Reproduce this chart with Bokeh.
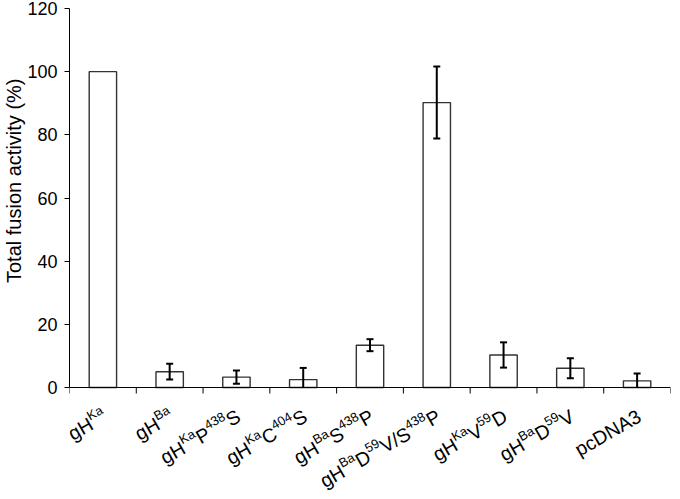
import re
import math
from bokeh.plotting import figure
from bokeh.models import (ColumnDataSource, FixedTicker, LinearAxis, Range1d,
                          Span, Title)
from bokeh.embed import file_html
from bokeh.resources import INLINE

# ---- data ----
# ^{...} marks superscript text
labels = ["gH^{Ka}", "gH^{Ba}", "gH^{Ka}P^{438}S", "gH^{Ka}C^{404}S",
          "gH^{Ba}S^{438}P", "gH^{Ba}D^{59}V/S^{438}P", "gH^{Ka}V^{59}D",
          "gH^{Ba}D^{59}V", "pcDNA3"]
values = [100, 5.0, 3.3, 2.5, 13.4, 90.2, 10.3, 6.1, 2.1]
errors = [0, 2.5, 2.1, 3.7, 1.9, 11.4, 4.0, 3.2, 2.3]
y_ticks = [0, 20, 40, 60, 80, 100, 120]
y_label = "Total fusion activity (%)"

n = len(labels)
centers = [i + 0.5 for i in range(n)]
bounds = list(range(n + 1))
Y_MAX = 120

FONT = "Liberation Sans"
BASE = 19.5      # px, category label size
SUP = 13.0       # px, superscript size
RAISE = 6.5      # px, superscript raise
ANG = math.radians(30)

# layout (px)
W_ALL, H_ALL = 672, 491
LEFT, RIGHT, TOP = 64, 2, 8
AXIS_Y = 387                     # canvas y of the value 0
PX = (AXIS_Y - TOP) / Y_MAX      # px per unit
Y_MIN = -(H_ALL - AXIS_Y) / PX   # frame continues below the axis for labels

# Arial / Liberation Sans advance widths (em)
WID = {"g": .556, "H": .722, "K": .667, "a": .556, "B": .667, "P": .667,
       "S": .667, "C": .722, "D": .722, "V": .667, "/": .278, "p": .556,
       "c": .5, "N": .722, "A": .667}


def width(t, size):
    return sum(WID.get(ch, .556) for ch in t) * size


def pieces(s):
    out = []
    for sup, base in re.findall(r"\^\{([^}]*)\}|([^^]+)", s):
        if sup:
            out.append((sup, True))
        elif base:
            out.append((base, False))
    return out


p = figure(width=W_ALL, height=H_ALL, output_backend="svg",
           toolbar_location=None,
           x_range=Range1d(0, n), y_range=Range1d(Y_MIN, Y_MAX),
           x_axis_type=None, y_axis_type=None,
           min_border_left=LEFT, min_border_right=RIGHT, min_border_top=TOP,
           min_border_bottom=0)
p.outline_line_color = None
p.xgrid.visible = False
p.ygrid.visible = False

# bars
bar_src = ColumnDataSource(dict(x=centers, top=values))
p.vbar(x="x", top="top", bottom=0, width=0.41, source=bar_src,
       fill_color="white", line_color="#333333", line_width=1.4)

# error bars (hidden below the axis, as in the original)
ex = [c for c, e in zip(centers, errors) if e > 0]
up = [v + e for v, e in zip(values, errors) if e > 0]
lo = [max(0, v - e) for v, e in zip(values, errors) if e > 0]
err_src = ColumnDataSource(dict(x=ex, upper=up, lower=lo))
p.segment(x0="x", y0="lower", x1="x", y1="upper", source=err_src,
          line_color="black", line_width=2)
p.scatter(x="x", y="upper", source=err_src, marker="dash", size=7,
          line_color="black", line_width=2)
cap_lo = ColumnDataSource(dict(x=[x for x, l in zip(ex, lo) if l > 0],
                               y=[l for l in lo if l > 0]))
p.scatter(x="x", y="y", source=cap_lo, marker="dash", size=7,
          line_color="black", line_width=2)

# x axis line and tick marks at category boundaries
p.add_layout(Span(location=0, dimension="width", line_color="black",
                  line_width=1))
p.ray(x=bounds, y=[0] * len(bounds), length=6, length_units="screen",
      angle=-math.pi / 2, line_color="black", line_width=1)

# y axis
yax = LinearAxis(ticker=FixedTicker(ticks=y_ticks), bounds=(0, Y_MAX))
yax.major_label_text_font = FONT
yax.major_label_text_font_size = "18px"
yax.major_label_text_color = "black"
yax.major_tick_out = 5
yax.major_tick_in = 0
yax.minor_tick_out = 0
yax.minor_tick_in = 0
yax.major_label_standoff = 7
yax.axis_line_color = "black"
yax.major_tick_line_color = "black"
p.add_layout(yax, "left")

# y-axis title: its top end placed below the frame top, so that it is
# centred on the 0-120 span of the axis
p.add_layout(Title(text=y_label, align="right", text_font=FONT,
                   text_font_size="20px", text_font_style="normal",
                   text_color="black", standoff=0, offset=70), "left")

# rotated category labels with real superscripts
cos_a, sin_a = math.cos(ANG), math.sin(ANG)
END_DX, END_DY = 2.0, 27.0   # end of baseline relative to tick (px)
lx, ly, lxo, lt, ls = [], [], [], [], []
for c, lab in zip(centers, labels):
    parts = pieces(lab)
    total = sum(width(t, SUP if s else BASE) for t, s in parts)
    pos = 0.0
    for t, s in parts:
        size = SUP if s else BASE
        rem = total - pos
        xo = END_DX - rem * cos_a
        sy = END_DY + rem * sin_a
        if s:
            xo -= RAISE * sin_a
            sy -= RAISE * cos_a
        lx.append(c)
        ly.append(-sy / PX)
        lxo.append(xo)
        lt.append(t)
        ls.append(f"{size}px")
        pos += width(t, size)

lab_src = ColumnDataSource(dict(x=lx, y=ly, xo=lxo, text=lt, size=ls))
p.text(x="x", y="y", x_offset="xo", text="text", source=lab_src,
       angle=ANG, text_font_size="size", text_color="black",
       text_align="left", text_baseline="alphabetic",
       text_font={"value": FONT})

open("out.html", "w").write(file_html(p, INLINE))
